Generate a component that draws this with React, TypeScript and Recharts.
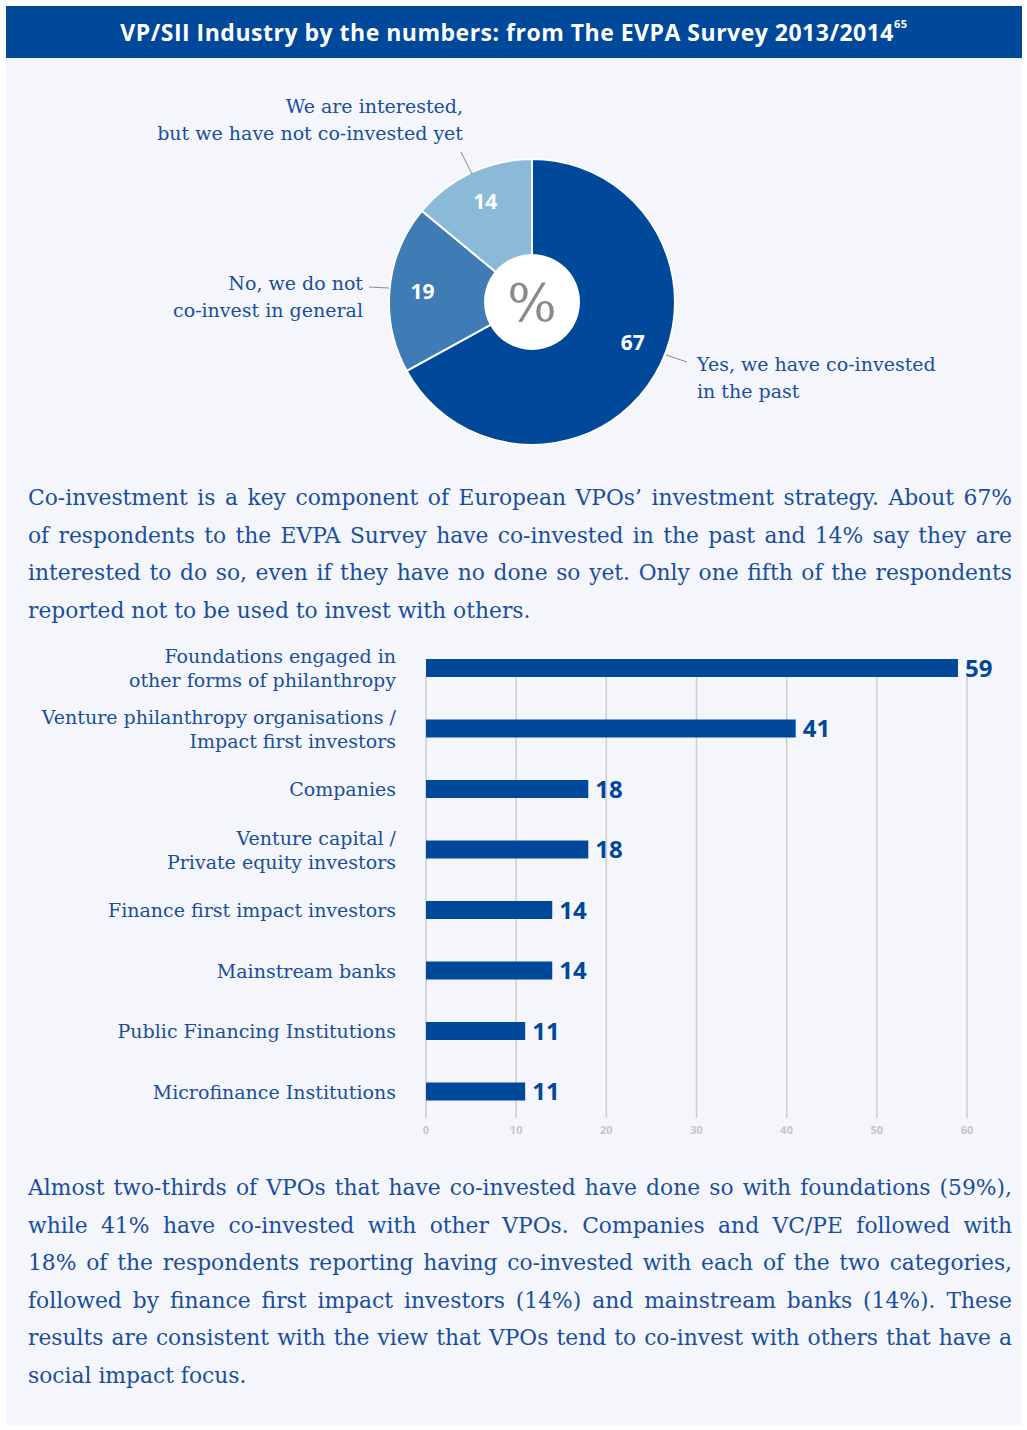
import React from 'react';
import { PieChart, Pie, Cell, BarChart, Bar, XAxis, YAxis, CartesianGrid, LabelList } from 'recharts';

// ---------- data ----------
const pieNames = ['Yes, we have co-invested in the past', 'No, we do not co-invest in general', 'We are interested, but we have not co-invested yet'];
const pieValues = [67, 19, 14];
const pieLabelLines = [
  ['Yes, we have co-invested', 'in the past'],
  ['No, we do not', 'co-invest in general'],
  ['We are interested,', 'but we have not co-invested yet'],
];
const pieColors = ['#00489a', '#3f7bb4', '#8abad8'];
const pieCentreText = '%';

const barCategories = [
  'Foundations engaged in\nother forms of philanthropy',
  'Venture philanthropy organisations /\nImpact first investors',
  'Companies',
  'Venture capital /\nPrivate equity investors',
  'Finance first impact investors',
  'Mainstream banks',
  'Public Financing Institutions',
  'Microfinance Institutions',
];
const barValues = [59, 41, 18, 18, 14, 14, 11, 11];
const xTicks = [0, 10, 20, 30, 40, 50, 60];

const titleText = 'VP/SII Industry by the numbers: from The EVPA Survey 2013/2014';
const titleSup = '65';

const para1 = [
  'Co-investment is a key component of European VPOs’ investment strategy. About 67%',
  'of respondents to the EVPA Survey have co-invested in the past and 14% say they are',
  'interested to do so, even if they have no done so yet. Only one fifth of the respondents',
  'reported not to be used to invest with others.',
];
const para2 = [
  'Almost two-thirds of VPOs that have co-invested have done so with foundations (59%),',
  'while 41% have co-invested with other VPOs. Companies and VC/PE followed with',
  '18% of the respondents reporting having co-invested with each of the two categories,',
  'followed by finance first impact investors (14%) and mainstream banks (14%). These',
  'results are consistent with the view that VPOs tend to co-invest with others that have a',
  'social impact focus.',
];

// ---------- built tables ----------
const pieData = pieNames.map((name, i) => ({ name, value: pieValues[i] }));
const barData = barCategories.map((name, i) => ({ name, value: barValues[i] }));

// ---------- styles ----------
const BLUE = '#00489a';
const TEXT_BLUE = '#1a4e9c';
const SERIF = '"DejaVu Serif", "Liberation Serif", serif';
const SANS = '"Open Sans", "Noto Sans", sans-serif';
const RAD = Math.PI / 180;

// label layout (relative to pie centre)
const OUTER_LAYOUT = [
  { anchor: 'start', tx: 165, ty: 69, l: [134, 53, 155, 60], nudge: [6, -15] },
  { anchor: 'end', tx: -169, ty: -12, l: [-163, -15, -143, -14], nudge: [0, 0] },
  { anchor: 'end', tx: -69, ty: -189, l: [-71, -150, -60, -128], nudge: [0, 0] },
];

const renderPieLabel = (props: any) => {
  const { cx, cy, midAngle, index, value } = props;
  const r = 110;
  const lay = OUTER_LAYOUT[index];
  const x = cx + r * Math.cos(-midAngle * RAD) + lay.nudge[0];
  const y = cy + r * Math.sin(-midAngle * RAD) + lay.nudge[1];
  const lines = pieLabelLines[index];
  return (
    <g key={`lbl-${index}`}>
      <text x={x} y={y + 7} textAnchor="middle" fill="#ffffff" fontFamily={SANS} fontWeight={700} fontSize={21}>
        {value}
      </text>
      <line x1={cx + lay.l[0]} y1={cy + lay.l[1]} x2={cx + lay.l[2]} y2={cy + lay.l[3]} stroke="#8a8a8a" strokeWidth={1} />
      <text x={cx + lay.tx} y={cy + lay.ty} textAnchor={lay.anchor as any} fill={TEXT_BLUE} fontFamily={SERIF} fontSize={19}>
        {lines.map((t, i) => (
          <tspan key={i} x={cx + lay.tx} dy={i === 0 ? 0 : 26.5}>{t}</tspan>
        ))}
      </text>
    </g>
  );
};

const renderCentreLabel = (props: any) => (
  <text key="centre" x={props.cx} y={props.cy + 19} textAnchor="middle" fill="#8a8a8a" fontFamily={SERIF} fontSize={52}>
    {pieCentreText}
  </text>
);

const CategoryTick = (props: any) => {
  const { x, y, payload } = props;
  const lines = String(payload.value).split('\n');
  const lh = 24;
  const y0 = y - ((lines.length - 1) * lh) / 2 + 7;
  return (
    <text x={x} y={y0} textAnchor="end" fill={TEXT_BLUE} fontFamily={SERIF} fontSize={19}>
      {lines.map((t, i) => (
        <tspan key={i} x={x} dy={i === 0 ? 0 : lh}>{t}</tspan>
      ))}
    </text>
  );
};

const gridLine = (p: any) => (
  <line key={p.key ?? `g-${p.index}`} x1={p.x1} x2={p.x2} y1={p.y1 + 39} y2={p.y2 - 4} stroke="#cdcdcd" strokeWidth={1.5} />
);

const Paragraph = ({ lines, top }: { lines: string[]; top: number }) => (
  <div style={{ position: 'absolute', left: 28, top, width: 984, color: TEXT_BLUE, fontFamily: SERIF, fontSize: 21.8 }}>
    {lines.map((t, i) => (
      <div
        key={i}
        style={{
          height: 37.5,
          lineHeight: '37.5px',
          whiteSpace: 'nowrap',
          textAlign: 'justify',
          textAlignLast: i === lines.length - 1 ? 'left' : 'justify',
        }}
      >
        {t}
      </div>
    ))}
  </div>
);

export default function App() {
  return (
    <div style={{ position: 'absolute', left: 0, top: 0, width: 1027, height: 1430, background: '#ffffff', overflow: 'hidden' }}>
      {/* panel */}
      <div style={{ position: 'absolute', left: 6, top: 58, width: 1016, height: 1367, background: '#f4f6fb' }} />
      {/* header */}
      <div
        style={{
          position: 'absolute', left: 6, top: 6, width: 1016, height: 52, background: BLUE,
          color: '#ffffff', fontFamily: SANS, fontWeight: 700, fontSize: 23, letterSpacing: 0.5, lineHeight: '52px', textAlign: 'center',
        }}
      >
        {titleText}
        <sup style={{ fontSize: 11, verticalAlign: 'top', position: 'relative', top: -8 }}>{titleSup}</sup>
      </div>

      {/* pie */}
      <div style={{ position: 'absolute', left: 0, top: 0 }}>
        <PieChart width={1027} height={460} margin={{ top: 0, right: 0, bottom: 0, left: 0 }}>
          <Pie
            data={pieData}
            dataKey="value"
            nameKey="name"
            cx={532}
            cy={302}
            outerRadius={143}
            innerRadius={0}
            startAngle={90}
            endAngle={-270}
            stroke="#ffffff"
            strokeWidth={2}
            label={renderPieLabel}
            labelLine={false}
            isAnimationActive={false}
          >
            {pieData.map((d, i) => (
              <Cell key={d.name} fill={pieColors[i]} />
            ))}
          </Pie>
          <Pie
            data={[{ name: 'centre', value: 1 }]}
            dataKey="value"
            cx={532}
            cy={302}
            outerRadius={48}
            innerRadius={0}
            fill="#ffffff"
            stroke="none"
            label={renderCentreLabel}
            labelLine={false}
            isAnimationActive={false}
          />
        </PieChart>
      </div>

      <Paragraph lines={para1} top={479} />

      {/* bar chart */}
      <div style={{ position: 'absolute', left: 0, top: 600 }}>
        <BarChart
          width={1027}
          height={560}
          data={barData}
          layout="vertical"
          margin={{ top: 38, right: 60, bottom: 8, left: 0 }}
          barSize={18}
        >
          <CartesianGrid horizontal={false} vertical={gridLine} />
          <XAxis
            type="number"
            domain={[0, 60]}
            ticks={xTicks}
            axisLine={false}
            tickLine={false}
            tickSize={0}
            tickMargin={4}
            height={30}
            tick={{ fill: '#c6c6c6', fontSize: 11, fontWeight: 700, fontFamily: SANS }}
          />
          <YAxis
            type="category"
            dataKey="name"
            width={426}
            axisLine={false}
            tickLine={false}
            tickSize={0}
            tickMargin={30}
            interval={0}
            tick={<CategoryTick />}
          />
          <Bar dataKey="value" fill={BLUE} isAnimationActive={false}>
            <LabelList
              dataKey="value"
              position="right"
              offset={7}
              fill={BLUE}
              style={{ fontFamily: SANS, fontWeight: 700, fontSize: 24, fill: BLUE }}
            />
          </Bar>
        </BarChart>
      </div>

      <Paragraph lines={para2} top={1169} />
    </div>
  );
}
